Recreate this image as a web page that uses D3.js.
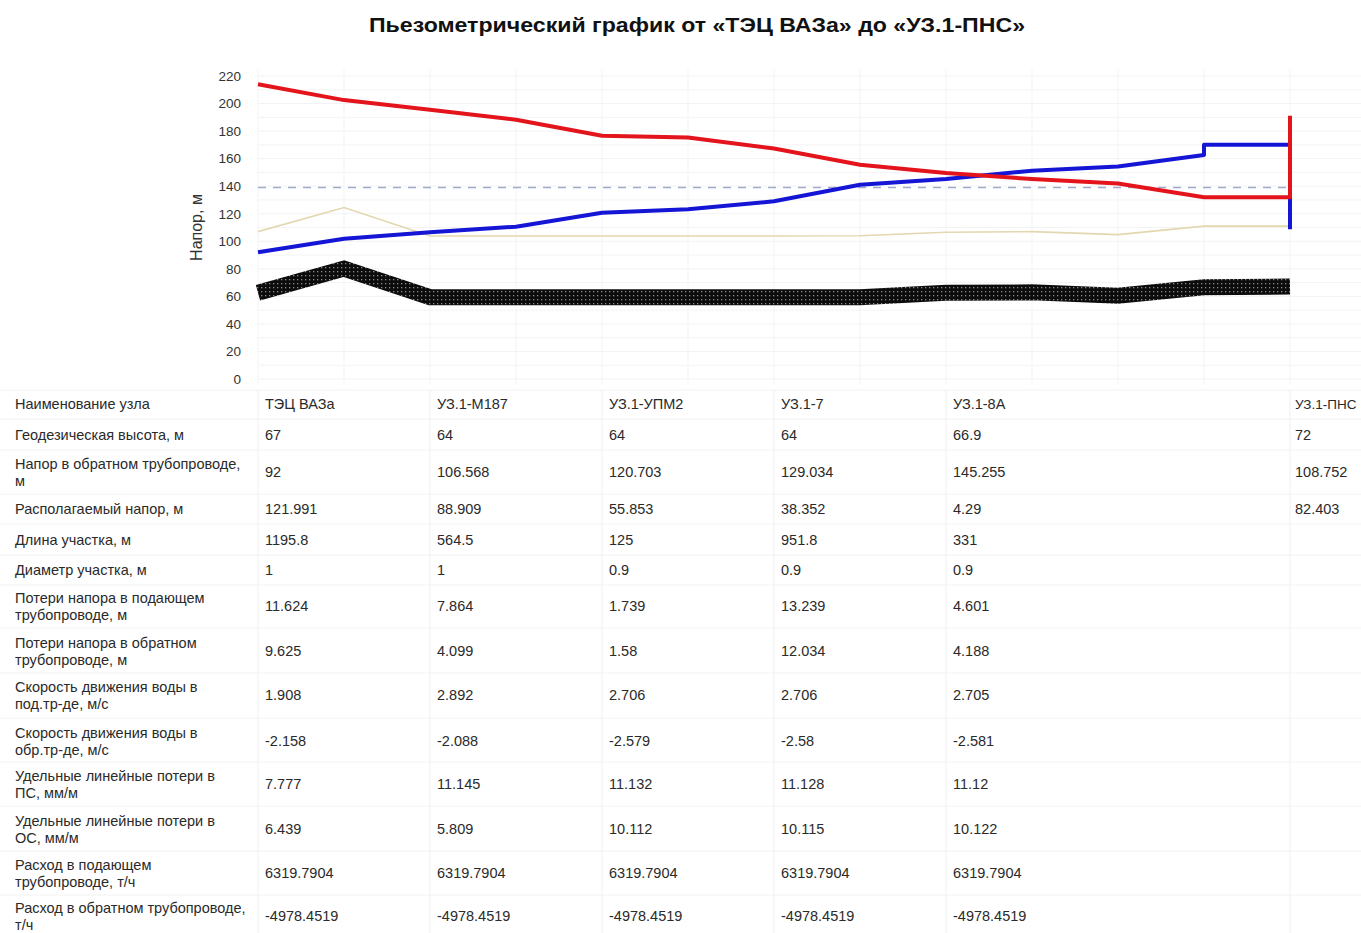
<!DOCTYPE html>
<html>
<head>
<meta charset="utf-8">
<script src="https://cdn.jsdelivr.net/npm/d3@7"></script>
<style>
  html, body { margin: 0; padding: 0; background: #fff; }
  svg { display: block; font-family: "Liberation Sans", Arial, sans-serif; }
</style>
</head>
<body>
<svg id="chart" width="1361" height="933"></svg>
<script>
// nodes along the route (x = position index on the profile)
const nodeNames = ['ТЭЦ ВАЗа', 'УЗ.1-М187', 'УЗ.1-УПМ2', 'УЗ.1-7', 'УЗ.1-8А', 'УЗ.1-ПНС'];
const nodePos = [0, 2, 4, 6, 8, 12];
const yTicks = [0, 20, 40, 60, 80, 100, 120, 140, 160, 180, 200, 220];

// supply head (red), [position, head]
const supplyHead = [[0, 213.991], [1, 202.5], [2, 195.477], [3, 188.3], [4, 176.556], [5, 175.3],
    [6, 167.386], [7, 155.5], [8, 149.545], [9, 145.2], [10, 142], [11, 132], [12, 132], [12, 191.155]];
// return head (blue)
const returnHead = [[0, 92], [1, 101.8], [2, 106.568], [3, 110.6], [4, 120.703], [5, 123.2],
    [6, 129.034], [7, 141], [8, 145.255], [9, 151.2], [10, 154.3], [11, 162.7], [11, 170], [12, 170], [12, 108.752]];
// thin tan line above the ground
const minHead = [107, 124.5, 103.8, 103.8, 103.8, 103.8, 103.8, 104, 106.6, 107, 104.8, 111, 111];
// ground profile (black band)
const ground = [67, 84.5, 63.8, 63.8, 63.8, 63.8, 63.8, 63.8, 66.9, 67.3, 64.8, 71, 71.5];
// static head (dashed)
const staticHead = 139;

// table under the chart
const rowLabels = [
    ['Наименование узла'],
    ['Геодезическая высота, м'],
    ['Напор в обратном трубопроводе,', 'м'],
    ['Располагаемый напор, м'],
    ['Длина участка, м'],
    ['Диаметр участка, м'],
    ['Потери напора в подающем', 'трубопроводе, м'],
    ['Потери напора в обратном', 'трубопроводе, м'],
    ['Скорость движения воды в', 'под.тр-де, м/с'],
    ['Скорость движения воды в', 'обр.тр-де, м/с'],
    ['Удельные линейные потери в', 'ПС, мм/м'],
    ['Удельные линейные потери в', 'ОС, мм/м'],
    ['Расход в подающем', 'трубопроводе, т/ч'],
    ['Расход в обратном трубопроводе,', 'т/ч'],
];
const geoHeight = ['67', '64', '64', '64', '66.9', '72'];
const returnHeadNode = ['92', '106.568', '120.703', '129.034', '145.255', '108.752'];
const availHead = ['121.991', '88.909', '55.853', '38.352', '4.29', '82.403'];
const segLength = ['1195.8', '564.5', '125', '951.8', '331'];
const segDiam = ['1', '1', '0.9', '0.9', '0.9'];
const lossSupply = ['11.624', '7.864', '1.739', '13.239', '4.601'];
const lossReturn = ['9.625', '4.099', '1.58', '12.034', '4.188'];
const speedSupply = ['1.908', '2.892', '2.706', '2.706', '2.705'];
const speedReturn = ['-2.158', '-2.088', '-2.579', '-2.58', '-2.581'];
const specLossSupply = ['7.777', '11.145', '11.132', '11.128', '11.12'];
const specLossReturn = ['6.439', '5.809', '10.112', '10.115', '10.122'];
const flowSupply = ['6319.7904', '6319.7904', '6319.7904', '6319.7904', '6319.7904'];
const flowReturn = ['-4978.4519', '-4978.4519', '-4978.4519', '-4978.4519', '-4978.4519'];

const tableRows = [nodeNames, geoHeight, returnHeadNode, availHead, segLength, segDiam, lossSupply,
    lossReturn, speedSupply, speedReturn, specLossSupply, specLossReturn, flowSupply, flowReturn];

/**
 * LAYOUT
 * */
const width = 1361;
const height = 933;
const svg = d3.select('#chart');

const x = d3.scaleLinear().domain([0, 12]).range([258, 1290]);
const y = d3.scaleLinear().domain([0, 220]).range([379, 76]);

// title
svg.append('text')
    .attr('x', 697)
    .attr('y', 32)
    .attr('text-anchor', 'middle')
    .attr('font-size', 21)
    .attr('font-weight', 'bold')
    .attr('fill', '#111')
    .attr('textLength', 656)
    .attr('lengthAdjust', 'spacingAndGlyphs')
    .text('Пьезометрический график от «ТЭЦ ВАЗа» до «УЗ.1-ПНС»');

// grid
const grid = svg.append('g').attr('class', 'grid');
grid.selectAll('line.h')
    .data(d3.range(0, 230, 10))
    .join('line')
    .attr('class', 'h')
    .attr('x1', x(0))
    .attr('x2', width)
    .attr('y1', d => y(d))
    .attr('y2', d => y(d))
    .attr('stroke', '#f3f3f3')
    .attr('stroke-width', 1);
grid.selectAll('line.v')
    .data(d3.range(0, 13))
    .join('line')
    .attr('class', 'v')
    .attr('x1', d => x(d))
    .attr('x2', d => x(d))
    .attr('y1', y(225))
    .attr('y2', y(-4))
    .attr('stroke', '#f3f3f3')
    .attr('stroke-width', 1);

// y axis (labels only)
const yAxis = svg.append('g')
    .attr('transform', `translate(${x(0) - 10},0)`)
    .call(d3.axisLeft(y).tickValues(yTicks).tickSize(0).tickPadding(7));
yAxis.select('.domain').remove();
yAxis.selectAll('text')
    .attr('font-size', 13.5)
    .attr('font-family', '"Liberation Sans", Arial, sans-serif')
    .attr('fill', '#333');

svg.append('text')
    .attr('transform', `translate(202,${y(110)}) rotate(-90)`)
    .attr('text-anchor', 'middle')
    .attr('font-size', 16)
    .attr('fill', '#333')
    .text('Напор, м');

// ground band texture
const defs = svg.append('defs');
const pat = defs.append('pattern')
    .attr('id', 'groundTex')
    .attr('patternUnits', 'userSpaceOnUse')
    .attr('width', 4)
    .attr('height', 4);
pat.append('rect').attr('width', 4).attr('height', 4).attr('fill', '#0c0c0c');
pat.append('rect').attr('x', 1).attr('y', 1).attr('width', 1.3).attr('height', 1.3).attr('fill', '#8a8a8a');

const lineIdx = d3.line().x((d, i) => x(i)).y(d => y(d));
const linePts = d3.line().x(d => x(d[0])).y(d => y(d[1]));

svg.append('path')
    .attr('d', lineIdx(ground))
    .attr('transform', 'translate(0,6)')
    .attr('fill', 'none')
    .attr('stroke', 'url(#groundTex)')
    .attr('stroke-width', 16);

svg.append('path')
    .attr('d', lineIdx(minHead))
    .attr('fill', 'none')
    .attr('stroke', '#e3d7b0')
    .attr('stroke-width', 1.6);

svg.append('line')
    .attr('x1', x(0))
    .attr('x2', x(12))
    .attr('y1', y(staticHead))
    .attr('y2', y(staticHead))
    .attr('stroke', '#a0a8cc')
    .attr('stroke-width', 1.5)
    .attr('stroke-dasharray', '8,7');

svg.append('path')
    .attr('d', linePts(returnHead))
    .attr('fill', 'none')
    .attr('stroke', '#1515d6')
    .attr('stroke-width', 4)
    .attr('stroke-linejoin', 'round');

svg.append('path')
    .attr('d', linePts(supplyHead))
    .attr('fill', 'none')
    .attr('stroke', '#e3141c')
    .attr('stroke-width', 4)
    .attr('stroke-linejoin', 'round');

/**
 * TABLE
 * */
const rowCenters = [404, 435, 472, 509, 540, 570, 606, 651, 695, 741, 784, 829, 873, 916];
const rowBounds = [390, 419, 450, 494, 524, 555, 585, 628, 673, 718, 762, 806, 851, 895, 937];
const fs = 14.5;
const table = svg.append('g').attr('class', 'table');

table.selectAll('line.row')
    .data(rowBounds)
    .join('line')
    .attr('class', 'row')
    .attr('x1', 0)
    .attr('x2', width)
    .attr('y1', d => d)
    .attr('y2', d => d)
    .attr('stroke', '#f2f2f2');
table.selectAll('line.col')
    .data(nodePos)
    .join('line')
    .attr('class', 'col')
    .attr('x1', d => x(d))
    .attr('x2', d => x(d))
    .attr('y1', rowBounds[0])
    .attr('y2', height)
    .attr('stroke', '#efefef');

rowLabels.forEach((lines, r) => {
    const t = table.append('text')
        .attr('x', 15)
        .attr('font-size', fs)
        .attr('fill', '#2a2a2a');
    const top = rowCenters[r] - (lines.length - 1) * 8.5;
    lines.forEach((ln, k) => {
        t.append('tspan')
            .attr('x', 15)
            .attr('y', top + k * 17)
            .attr('dy', '0.35em')
            .text(ln);
    });
});

// last column sits at the right edge, keep its header inside the page
const lastCol = nodePos.length - 1;
tableRows.forEach((vals, r) => {
    table.selectAll(null)
        .data(vals)
        .join('text')
        .attr('x', (d, i) => x(nodePos[i]) + (i === lastCol ? 5 : 7))
        .attr('y', rowCenters[r])
        .attr('dy', '0.35em')
        .attr('font-size', (d, i) => (r === 0 && i === lastCol ? 13.5 : fs))
        .attr('fill', '#2a2a2a')
        .text(d => d);
});
</script>
</body>
</html>
